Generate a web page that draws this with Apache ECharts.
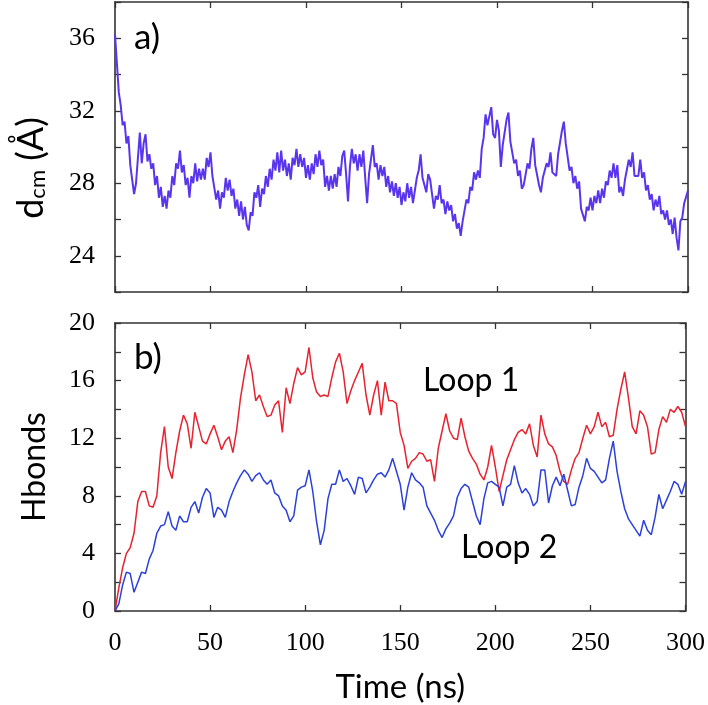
<!DOCTYPE html>
<html>
<head>
<meta charset="utf-8">
<script src="https://cdn.jsdelivr.net/npm/echarts@6/dist/echarts.min.js"></script>
<style>
html,body{margin:0;padding:0;background:#fff;}
#chart{width:708px;height:705px;}
</style>
</head>
<body>
<div id="chart"></div>
<script>
// ---- data ----
// panel a: centre-of-mass distance (Å), one value per ns, 0..300 ns
const dcmStep = 1;
const dcm = [
36.2, 34.6, 33.0, 32.3, 31.2, 31.4, 30.2, 30.6, 29.0, 28.9,
27.4, 28.0, 27.9, 30.8, 29.1, 30.2, 30.7, 29.2, 29.6, 28.8,
29.1, 27.9, 28.4, 27.2, 27.8, 26.7, 27.3, 26.6, 27.6, 27.2,
28.4, 27.9, 29.1, 28.8, 29.8, 28.6, 29.0, 27.9, 28.3, 27.2,
28.4, 28.0, 29.1, 28.1, 28.8, 28.2, 28.8, 28.2, 29.4, 28.9,
29.7, 28.4, 28.3, 27.1, 27.6, 26.6, 27.5, 27.2, 28.3, 27.6,
28.2, 27.3, 27.7, 26.6, 27.1, 26.2, 27.0, 26.0, 26.7, 25.7,
25.4, 26.4, 26.2, 27.5, 27.2, 27.9, 26.7, 27.7, 27.4, 28.4,
27.8, 28.8, 28.2, 29.3, 28.7, 29.7, 28.6, 29.8, 28.7, 29.3,
28.4, 29.1, 28.2, 29.4, 29.0, 29.9, 28.9, 29.6, 28.9, 29.4,
28.3, 29.0, 28.2, 29.1, 28.5, 29.6, 28.9, 29.8, 29.0, 29.3,
27.8, 28.4, 27.6, 28.4, 27.7, 28.5, 27.8, 28.9, 28.4, 29.5,
29.8, 28.5, 27.0, 28.9, 29.9, 29.1, 29.6, 28.7, 29.6, 28.9,
29.8, 28.3, 26.9, 28.5, 29.3, 30.1, 28.9, 29.1, 28.2, 29.0,
28.4, 28.9, 27.8, 28.4, 27.5, 28.1, 27.3, 28.0, 27.2, 27.8,
26.8, 27.5, 27.0, 28.0, 27.2, 27.8, 26.9, 27.6, 28.3, 28.7,
29.6, 28.3, 28.2, 27.5, 28.5, 28.2, 28.1, 26.6, 27.3, 27.1,
27.9, 26.9, 27.1, 26.3, 27.0, 26.5, 26.8, 25.9, 26.3, 25.5,
25.8, 25.1, 25.9, 26.0, 27.1, 26.9, 27.8, 27.6, 28.6, 28.2,
28.7, 28.3, 29.9, 30.5, 31.8, 31.2, 31.2, 32.2, 30.7, 30.5,
31.5, 30.9, 28.9, 30.1, 30.1, 31.5, 31.9, 30.3, 30.3, 29.1,
29.3, 28.4, 28.7, 27.7, 27.9, 28.0, 29.1, 28.8, 29.9, 30.5,
29.0, 28.9, 27.9, 27.5, 28.3, 28.3, 29.1, 28.9, 29.7, 28.6,
28.5, 28.4, 29.6, 29.5, 30.9, 31.4, 30.2, 30.2, 28.7, 28.9,
28.0, 28.4, 27.7, 28.1, 26.6, 26.7, 25.9, 26.7, 26.5, 27.2,
26.5, 27.3, 26.9, 27.6, 26.9, 27.7, 27.2, 28.1, 27.9, 28.7,
28.3, 29.1, 28.3, 29.0, 27.5, 27.8, 27.3, 28.2, 28.1, 29.3,
28.9, 29.7, 28.4, 28.5, 28.4, 29.3, 28.3, 28.6, 27.6, 27.9,
27.1, 27.4, 26.5, 27.1, 26.7, 27.3, 26.3, 26.5, 26.0, 26.5,
25.7, 26.0, 25.2, 26.1, 25.0, 24.3, 25.9, 26.1, 26.9, 27.0, 27.6
];

// panel b: hydrogen bonds, one value per 2 ns, 0..300 ns
const hbStep = 2;
const loop1 = [
0.0, 1.6, 3.0, 4.0, 4.4, 5.4, 7.6, 8.3, 8.3, 7.3,
7.2, 8.0, 11.0, 12.8, 10.0, 9.2, 11.0, 12.5, 13.6, 13.0,
11.3, 13.8, 12.8, 11.8, 11.6, 12.3, 12.9, 12.1, 11.2, 11.8,
12.1, 11.0, 12.6, 14.8, 16.4, 17.8, 16.6, 14.6, 15.0, 14.2,
13.5, 13.6, 14.3, 14.6, 12.4, 15.5, 14.4, 15.8, 16.9, 16.4,
16.6, 18.3, 16.2, 15.2, 14.9, 15.0, 14.9, 16.2, 17.3, 17.9,
16.6, 14.4, 15.3, 16.0, 16.6, 17.2, 15.0, 13.6, 15.0, 16.0,
13.6, 15.9, 14.6, 14.6, 14.4, 12.4, 11.5, 9.9, 10.4, 10.6,
11.0, 10.9, 10.4, 10.5, 9.0, 11.3, 12.5, 13.7, 12.5, 12.0,
11.9, 13.4, 12.1, 11.1, 10.6, 10.2, 9.5, 9.1, 10.0, 11.5,
10.0, 8.3, 9.4, 10.5, 11.2, 11.9, 12.4, 12.6, 12.3, 13.0,
11.5, 10.7, 13.6, 12.3, 11.6, 11.4, 10.8, 9.7, 9.0, 8.8,
9.8, 10.6, 11.0, 12.0, 12.9, 12.3, 12.8, 13.8, 12.8, 13.1,
12.1, 12.2, 14.0, 15.4, 16.6, 14.8, 12.8, 12.3, 13.9, 13.6,
12.8, 10.9, 11.0, 12.6, 13.5, 13.1, 14.0, 13.8, 14.2, 13.8, 12.8
];
const loop2 = [
0.0, 0.5, 1.8, 2.7, 2.6, 1.3, 2.0, 2.7, 2.6, 3.6,
4.2, 5.4, 5.9, 6.0, 6.9, 5.9, 5.6, 6.6, 6.2, 6.2,
7.2, 7.6, 6.8, 7.9, 8.5, 8.2, 6.5, 7.2, 7.0, 6.5,
7.6, 8.3, 8.9, 9.4, 9.8, 9.5, 9.0, 9.4, 9.6, 9.1,
8.8, 9.1, 8.2, 8.0, 7.3, 7.0, 6.2, 6.6, 8.4, 8.6,
8.7, 9.8, 8.3, 6.2, 4.6, 5.6, 7.8, 8.8, 8.8, 9.8,
9.0, 9.2, 8.7, 8.1, 9.3, 9.2, 8.2, 8.6, 9.1, 9.5,
9.6, 9.3, 9.8, 10.6, 9.7, 8.8, 7.0, 8.6, 9.6, 9.1,
8.9, 8.6, 7.3, 6.8, 6.3, 5.6, 5.1, 5.7, 6.1, 6.6,
7.9, 8.5, 8.8, 8.6, 7.6, 6.6, 6.0, 7.8, 8.9, 9.0,
8.8, 8.6, 7.3, 8.6, 8.8, 10.1, 8.9, 8.2, 8.5, 8.1,
7.3, 7.6, 9.8, 9.8, 7.5, 8.7, 9.3, 8.7, 9.5, 8.4,
7.3, 7.4, 8.6, 9.4, 10.6, 9.9, 9.7, 9.3, 8.9, 9.1,
10.6, 11.8, 9.7, 8.3, 7.1, 6.4, 6.0, 5.6, 5.2, 6.3,
5.6, 5.3, 6.5, 8.1, 7.1, 7.7, 8.3, 9.0, 8.8, 8.1, 9.0
];

const xTicks = [0, 50, 100, 150, 200, 250, 300];
const dcmLabels = [24, 28, 32, 36];
const hbLabels = [0, 4, 8, 12, 16, 20];

// ---- chart ----
const chart = echarts.init(document.getElementById('chart'), null, {renderer: 'canvas'});
const AX = '#333';
const SERIF = '"Liberation Serif", "DejaVu Serif", serif';
const SANS = 'Lato, "Open Sans", sans-serif';

function xAx(grid, pos, labels) {
  return {
    type: 'value', gridIndex: grid, position: pos, min: xTicks[0], max: xTicks[xTicks.length-1], interval: xTicks[1]-xTicks[0],
    axisLine: {show: true, onZero: false, lineStyle: {color: AX, width: 1.6}},
    axisTick: {show: true, inside: true, length: 6, lineStyle: {color: AX, width: 1.3}},
    axisLabel: {show: labels, color: '#000', fontFamily: SERIF, fontSize: 26, margin: 19},
    splitLine: {show: false}
  };
}
function yAx(grid, pos, min, max, labelSet, labels, extra) {
  return Object.assign({
    type: 'value', gridIndex: grid, position: pos, min: min, max: max, interval: 2,
    axisLine: {show: true, onZero: false, lineStyle: {color: AX, width: 1.6}},
    axisTick: {show: true, inside: true, length: 6, lineStyle: {color: AX, width: 1.3}},
    axisLabel: {show: labels, color: '#000', fontFamily: SERIF, fontSize: 26, margin: 20,
      formatter: v => labelSet.indexOf(v) >= 0 ? String(v) : ''},
    splitLine: {show: false}
  }, extra || {});
}

const option = {
  backgroundColor: '#fff',
  animation: false,
  grid: [
    {left: 115, right: 20, top: 2, height: 290},
    {left: 115, right: 20, top: 323, height: 289}
  ],
  xAxis: [
    xAx(0, 'bottom', false),
    xAx(0, 'top', false),
    Object.assign(xAx(1, 'bottom', true), {
      name: 'Time (ns)', nameLocation: 'middle', nameGap: 60,
      nameTextStyle: {fontFamily: SANS, fontSize: 33, color: '#000'}
    }),
    xAx(1, 'top', false)
  ],
  yAxis: [
    yAx(0, 'left', 22, 38, dcmLabels, true),
    yAx(0, 'right', 22, 38, dcmLabels, false),
    yAx(1, 'left', 0, 20, hbLabels, true, {
      name: 'Hbonds', nameLocation: 'middle', nameGap: 64, nameRotate: 90,
      nameTextStyle: {fontFamily: SANS, fontSize: 32, color: '#000'}
    }),
    yAx(1, 'right', 0, 20, hbLabels, false)
  ],
  series: [
    {type: 'line', xAxisIndex: 0, yAxisIndex: 0, symbol: 'none', silent: true,
      lineStyle: {color: '#5a35ee', width: 2},
      data: dcm.map((v, i) => [i * dcmStep, v])},
    {type: 'line', name: 'Loop 1', xAxisIndex: 2, yAxisIndex: 2, symbol: 'none', silent: true,
      lineStyle: {color: '#e8222f', width: 1.5},
      data: loop1.map((v, i) => [i * hbStep, v])},
    {type: 'line', name: 'Loop 2', xAxisIndex: 2, yAxisIndex: 2, symbol: 'none', silent: true,
      lineStyle: {color: '#2b40dc', width: 1.5},
      data: loop2.map((v, i) => [i * hbStep, v])}
  ],
  graphic: [
    {type: 'text', x: 31, y: 168, rotation: Math.PI / 2,
      style: {text: '{m|d}{s|cm}{m| (Å)}', align: 'center', verticalAlign: 'middle',
        rich: {
          m: {fontFamily: SANS, fontSize: 36, lineHeight: 36, verticalAlign: 'top', fill: '#000', color: '#000'},
          s: {fontFamily: SANS, fontSize: 22, lineHeight: 36, verticalAlign: 'bottom', fill: '#000', color: '#000'}
        }}},
    {type: 'text', left: 134, top: 20, style: {text: 'a)', fontFamily: SANS, fontSize: 35, fill: '#000'}},
    {type: 'text', left: 134, top: 340, style: {text: 'b)', fontFamily: SANS, fontSize: 35, fill: '#000'}},
    {type: 'text', left: 423, top: 365, style: {text: 'Loop 1', fontFamily: SANS, fontSize: 32, fill: '#000'}},
    {type: 'text', left: 461, top: 532, style: {text: 'Loop 2', fontFamily: SANS, fontSize: 32, fill: '#000'}}
  ]
};
chart.setOption(option);
</script>
</body>
</html>
